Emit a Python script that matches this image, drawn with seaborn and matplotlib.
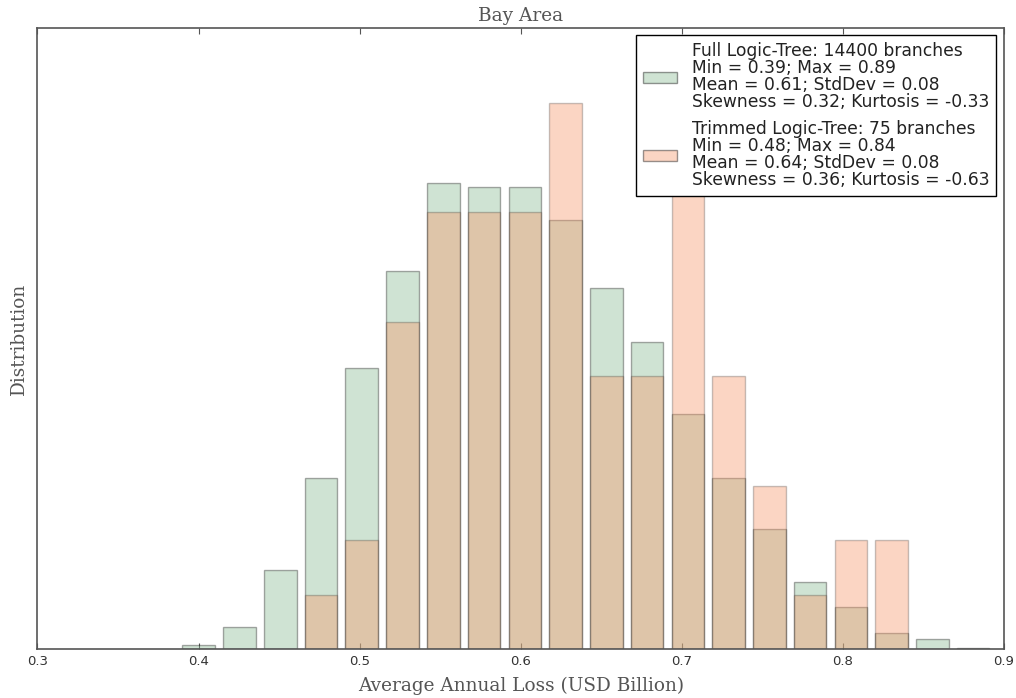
import numpy as np
import pandas as pd
import seaborn as sns
import matplotlib
matplotlib.use("Agg")
import matplotlib.pyplot as plt
from matplotlib.patches import Patch

# ---- data ----
bin_start = 0.39
bin_width = 0.0253
n_bins = 20

# Full logic tree: probability density per bin
full_density = [0.043, 0.217, 0.762, 1.654, 2.715, 3.651, 4.50, 4.461, 4.461, 4.143,
                3.487, 2.966, 2.271, 1.654, 1.162, 0.651, 0.410, 0.159, 0.101, 0.014]
# Trimmed logic tree: branch counts per bin (75 branches)
trimmed_counts = [0, 0, 0, 1, 2, 6, 8, 8, 8, 10,
                  5, 5, 9, 5, 3, 1, 2, 2, 0, 0]

full_label = ("Full Logic-Tree: 14400 branches\nMin = 0.39; Max = 0.89\n"
              "Mean = 0.61; StdDev = 0.08\nSkewness = 0.32; Kurtosis = -0.33")
trim_label = ("Trimmed Logic-Tree: 75 branches\nMin = 0.48; Max = 0.84\n"
              "Mean = 0.64; StdDev = 0.08\nSkewness = 0.36; Kurtosis = -0.63")

xticks = [0.3, 0.4, 0.5, 0.6, 0.7, 0.8, 0.9]
title = "Bay Area"
xlabel = "Average Annual Loss (USD Billion)"
ylabel = "Distribution"

# ---- styling ----
sns.set_style("white")
plt.rcParams["font.family"] = ["DejaVu Sans"]

green = "#89b993"
orange = "#f5986b"
alpha = 0.4

fig = plt.figure(figsize=(10.16, 6.98), dpi=100)
ax = fig.add_axes([0.0369, 0.0695, 0.9513, 0.8911])

# bins shifted so that each bar (80% of bin) starts at the bin's left edge
shift = 0.1 * bin_width
edges = [float(bin_start - shift + bin_width * i) for i in range(n_bins + 1)]
centers = bin_start + bin_width * (np.arange(n_bins) + 0.5)

df_full = pd.DataFrame({"x": centers, "w": full_density})
tc = np.array(trimmed_counts)
df_trim = pd.DataFrame({"x": centers[tc > 0], "w": tc[tc > 0]})

green_edge = (0, 0, 0, 0.33)
orange_edge = (0, 0, 0, 0.22)

sns.histplot(data=df_full, x="x", weights="w", bins=edges, stat="count",
             shrink=0.8, color=green, alpha=alpha, edgecolor=green_edge,
             linewidth=1.0, ax=ax)
sns.histplot(data=df_trim, x="x", weights="w", bins=edges, stat="density",
             shrink=0.8, color=orange, alpha=alpha, edgecolor=orange_edge,
             linewidth=1.0, ax=ax)

ax.set_xlim(0.3, 0.9)
ax.set_ylim(0, 6)
ax.set_xticks(xticks)
ax.set_xticklabels([f"{t:.1f}" for t in xticks], fontsize=9.5, color="#333333")
ax.set_yticks([])
ax.tick_params(axis="x", direction="in", length=4, width=0.8, top=True,
               bottom=True, color="#555555", pad=4)

for sp in ax.spines.values():
    sp.set_visible(True)
    sp.set_color("#555555")
    sp.set_linewidth(1.2)

serif = {"family": "DejaVu Serif", "size": 13.3, "color": "#555555"}
ax.set_title(title, fontdict=serif, pad=5)
ax.set_xlabel(xlabel, fontdict=serif, labelpad=6)
ax.set_ylabel(ylabel, fontdict=serif, labelpad=7)

handles = [Patch(facecolor=green, alpha=alpha, edgecolor=green_edge),
           Patch(facecolor=orange, alpha=alpha, edgecolor=orange_edge)]
leg = ax.legend(handles, [full_label, trim_label], loc="upper right",
                fontsize=12.3, frameon=True, fancybox=False, framealpha=1,
                edgecolor="black", handlelength=2.0, handleheight=0.65,
                borderaxespad=0.45, labelspacing=0.55, borderpad=0.4,
                handletextpad=0.85)
leg.get_frame().set_linewidth(1.0)
for t in leg.get_texts():
    t.set_color("#222222")
    t.set_linespacing(0.92)

fig.savefig("out.png", dpi=100)
